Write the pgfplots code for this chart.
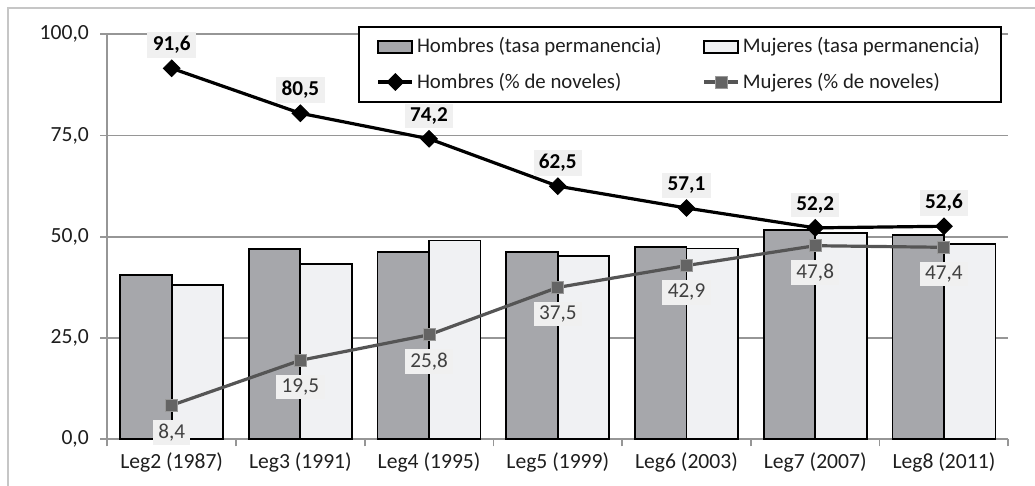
\documentclass[border=0pt]{standalone}
\usepackage{pgfplots}
\pgfplotsset{compat=1.18}
\usepackage{fontspec}
\setmainfont{Carlito}
\definecolor{hbar}{RGB}{166,167,171}
\definecolor{mbar}{RGB}{240,241,243}
\definecolor{gridc}{RGB}{150,150,150}
\definecolor{mline}{RGB}{85,85,85}
\definecolor{mmark}{RGB}{100,100,100}
\definecolor{lblbg}{RGB}{240,240,240}
\definecolor{txt}{RGB}{30,30,30}
\pgfplotsset{barlegend/.style={legend image code/.code={\draw[##1] (0pt,-3pt) rectangle (17pt,3pt);}}}
\begin{document}
\begin{tikzpicture}
\useasboundingbox (0,0) rectangle (517.5pt,243pt);
\draw[color=gray!45, line width=0.8pt] (4pt,-10pt) -- (4pt,239pt) -- (530pt,239pt);
\begin{axis}[
  at={(53.65pt,23.35pt)}, anchor=south west,
  width=450.5pt, height=202.5pt, scale only axis,
  xmin=-0.5, xmax=6.5, ymin=0, ymax=100,
  axis lines*=left,
  axis line style={gridc, line width=0.9pt},
  ytick={0,25,50,75,100},
  ymajorgrids, grid style={gridc, line width=0.9pt},
  xtick={-0.5,0.5,...,6.5},
  x tick label as interval,
  xticklabels={Leg2 (1987),Leg3 (1991),Leg4 (1995),Leg5 (1999),Leg6 (2003),Leg7 (2007),Leg8 (2011)},
  tick align=outside,
  major tick length=3.5pt,
  tick style={gridc, line width=0.9pt},
  tick label style={font=\fontsize{10.8}{13}\selectfont, text=txt},
  yticklabel style={xshift=-2.2pt, /pgf/number format/.cd, fixed, fixed zerofill, precision=1, use comma, assume math mode=true},
  xticklabel style={yshift=0.5pt},
  legend columns=2,
  legend cell align=left,
  legend style={at={(0.278,1.021)}, anchor=north west, draw=black, line width=0.9pt, fill=white,
    font=\fontsize{10.4}{12.5}\selectfont, text=txt,
    inner xsep=9pt, inner ysep=3.5pt, row sep=4.5pt,
    /tikz/every even column/.append style={column sep=19pt},
    nodes={inner xsep=1.5pt}},
]
\addplot[ybar, bar width=25.75pt, bar shift=-12.875pt, fill=hbar, draw=black, line width=0.9pt, barlegend]
  coordinates {(0,40.6) (1,47.0) (2,46.2) (3,46.2) (4,47.4) (5,51.7) (6,50.4)};
\addlegendentry{Hombres (tasa permanencia)}
\addplot[ybar, bar width=25.75pt, bar shift=12.875pt, fill=mbar, draw=black, line width=0.9pt, barlegend]
  coordinates {(0,38.1) (1,43.2) (2,49.1) (3,45.3) (4,47.1) (5,50.9) (6,48.3)};
\addlegendentry{Mujeres (tasa permanencia)}
\addplot[black, line width=1.6pt, mark=square*, mark size=2.9pt, mark options={rotate=45, fill=black, draw=black, line width=0.5pt},
  nodes near coords={\pgfmathprintnumber[fixed,fixed zerofill,precision=1,use comma,assume math mode=true]{\pgfplotspointmeta}},
  every node near coord/.append style={anchor=south, yshift=5pt, fill=lblbg, text=black, font=\fontsize{10.6}{12.5}\selectfont\bfseries, inner xsep=2.7pt, inner ysep=2pt, rotate=0}]
  coordinates {(0,91.6) (1,80.5) (2,74.2) (3,62.5) (4,57.1) (5,52.2) (6,52.6)};
\addlegendentry{Hombres (\% de noveles)}
\addplot[mline, line width=1.6pt, mark=square*, mark size=3pt, mark options={fill=mmark, draw=gray!80, line width=0.5pt},
  nodes near coords={\pgfmathprintnumber[fixed,fixed zerofill,precision=1,use comma,assume math mode=true]{\pgfplotspointmeta}},
  every node near coord/.append style={anchor=north, yshift=-7pt, fill=lblbg, text=black!75, font=\fontsize{10.6}{12.5}\selectfont, inner xsep=2.7pt, inner ysep=2pt}]
  coordinates {(0,8.4) (1,19.5) (2,25.8) (3,37.5) (4,42.9) (5,47.8) (6,47.4)};
\addlegendentry{Mujeres (\% de noveles)}
\end{axis}
\end{tikzpicture}
\end{document}
